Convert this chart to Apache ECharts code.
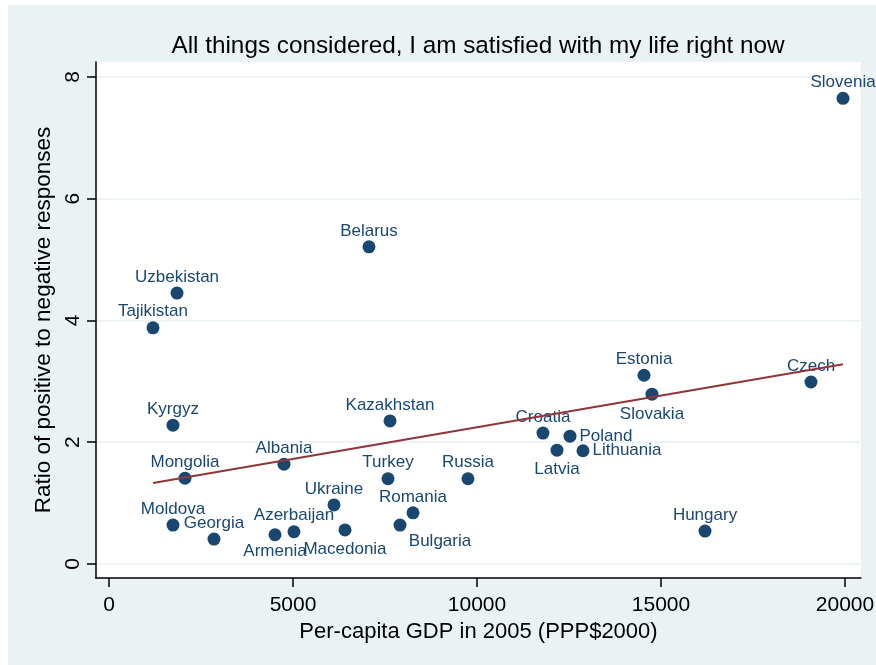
<!DOCTYPE html>
<html><head><meta charset="utf-8">
<script src="https://cdn.jsdelivr.net/npm/echarts@6/dist/echarts.min.js"></script>
<style>
html,body{margin:0;padding:0;background:#fff;width:876px;height:665px;overflow:hidden}
#c{position:absolute;left:8px;top:5px;width:868px;height:660px;}
</style>
</head><body><div id="c"></div>
<script>
// ---- data ----
const countries = ['Slovenia','Belarus','Uzbekistan','Tajikistan','Kyrgyz','Kazakhstan','Estonia','Slovakia','Czech','Croatia','Poland','Latvia','Lithuania','Mongolia','Albania','Turkey','Russia','Ukraine','Romania','Bulgaria','Moldova','Georgia','Armenia','Azerbaijan','Macedonia','Hungary'];
const gdp = [19946,7065,1848,1196,1739,7636,14538,14755,19076,11793,12527,12174,12880,2065,4755,7582,9755,6114,8261,7908,1739,2853,4511,5027,6413,16196];
const ratio = [7.65,5.21,4.45,3.88,2.28,2.35,3.10,2.79,2.99,2.15,2.10,1.87,1.86,1.41,1.64,1.40,1.40,0.97,0.84,0.64,0.64,0.41,0.48,0.53,0.56,0.54];
const fitX = [1196, 19946];
const fitY = [1.33, 3.28];
const xTicks = [0, 5000, 10000, 15000, 20000];
const yTicks = [0, 2, 4, 6, 8];
const titleText = 'All things considered, I am satisfied with my life right now';
const xName = 'Per-capita GDP in 2005 (PPP$2000)';
const yName = 'Ratio of positive to negative responses';

// ---- styling ----
const NAVY = '#1a476f';
const MAROON = '#90353b';
const BG = '#eaf2f3';
const FONT = 'Liberation Sans, Arial, sans-serif';
const labelPlacement = {
  Slovakia: {position: 'bottom', distance: 5},
  Latvia: {position: 'bottom', distance: 4},
  Macedonia: {position: 'bottom', distance: 4},
  Armenia: {position: 'bottom', distance: 2},
  Bulgaria: {position: 'bottom', distance: 1, offset: [40, 0]},
  Poland: {position: 'right', distance: 3},
  Lithuania: {position: 'right', distance: 3}
};

const points = countries.map((name, i) => {
  const p = labelPlacement[name] || {position: 'top', distance: 1};
  return {
    name: name,
    value: [gdp[i], ratio[i]],
    label: Object.assign({}, p)
  };
});

const chart = echarts.init(document.getElementById('c'), null, {renderer: 'canvas'});
chart.setOption({
  backgroundColor: BG,
  animation: false,
  title: {
    text: titleText,
    left: 465,
    top: 24,
    textAlign: 'center',
    textStyle: {fontFamily: FONT, fontSize: 24.3, fontWeight: 'normal', color: '#000'}
  },
  grid: {
    left: 88, right: 15, top: 57, bottom: 87,
    outerBoundsMode: 'none',
    containLabel: false,
    show: true, backgroundColor: '#fff', borderWidth: 0
  },
  xAxis: {
    type: 'value',
    min: -353, max: 20435,
    name: xName,
    nameLocation: 'middle',
    nameGap: 43,
    nameTextStyle: {fontFamily: FONT, fontSize: 22, color: '#000'},
    axisLine: {show: true, onZero: false, lineStyle: {color: '#000', width: 1.5}},
    axisTick: {show: true, length: 9, lineStyle: {color: '#000', width: 1.5}, customValues: xTicks},
    axisLabel: {fontFamily: FONT, fontSize: 21, color: '#000', margin: 17, customValues: xTicks,
                formatter: v => String(v), hideOverlap: false},
    splitLine: {show: false}
  },
  yAxis: {
    type: 'value',
    min: -0.23, max: 8.246,
    name: yName,
    nameLocation: 'middle',
    nameGap: 36,
    nameTextStyle: {fontFamily: FONT, fontSize: 22.5, color: '#000'},
    axisLine: {show: true, onZero: false, lineStyle: {color: '#000', width: 1.5}},
    axisTick: {show: true, length: 9, lineStyle: {color: '#000', width: 1.5}, customValues: yTicks},
    axisLabel: {fontFamily: FONT, fontSize: 21, color: '#000', margin: 12, rotate: 90, customValues: yTicks,
                formatter: v => String(v)},
    splitLine: {show: true, lineStyle: {color: BG, width: 1.5}}
  },
  series: [
    {
      type: 'scatter',
      data: points,
      symbol: 'circle',
      symbolSize: 13,
      itemStyle: {color: NAVY, opacity: 1},
      label: {
        show: true,
        formatter: '{b}',
        color: NAVY,
        opacity: 1,
        fontFamily: FONT,
        fontSize: 17
      },
      emphasis: {disabled: true},
      z: 2
    },
    {
      type: 'line',
      data: fitX.map((x, i) => [x, fitY[i]]),
      symbol: 'none',
      lineStyle: {color: MAROON, width: 2},
      emphasis: {disabled: true},
      z: 3
    }
  ]
});
</script>
</body></html>
